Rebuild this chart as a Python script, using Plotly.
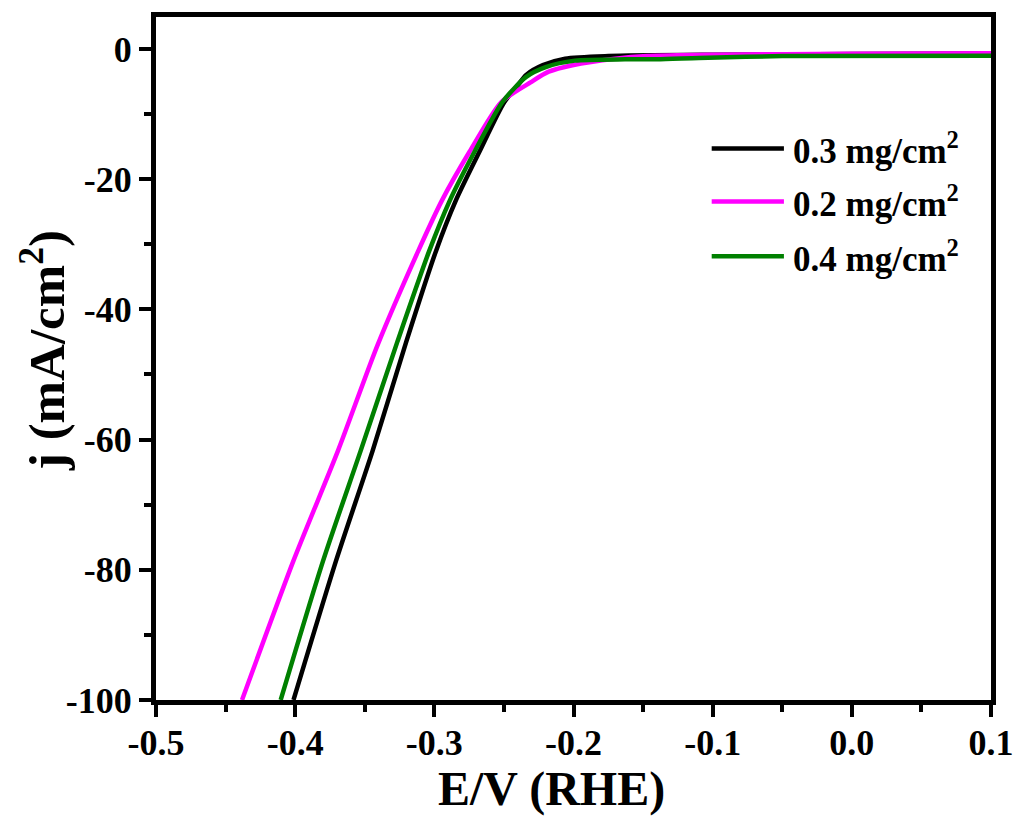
import plotly.graph_objects as go

# Polarization curves (HER), potential vs RHE and current density
E_03 = [-0.4012, -0.3706, -0.3443, -0.3202, -0.2989, -0.2846, -0.2676, -0.2498, -0.2400,
        -0.2340, -0.2220, -0.2060, -0.1750, -0.1000, 0.0000, 0.1000]
J_03 = [-100.0, -78.6, -61.7, -45.0, -31.1, -23.3, -15.8, -8.2, -5.6,
        -4.0, -2.5, -1.5, -1.1, -0.9, -0.8, -0.7]

E_02 = [-0.4382, -0.4012, -0.3692, -0.3408, -0.3117, -0.2946, -0.2747, -0.2520, -0.2306,
        -0.2178, -0.2008, -0.1700, -0.1470, -0.1000, 0.0000, 0.1000]
J_02 = [-100.0, -78.6, -61.7, -45.5, -31.1, -23.3, -15.8, -8.2, -5.1,
        -3.5, -2.5, -1.5, -1.1, -0.9, -0.75, -0.65]

E_04 = [-0.4104, -0.3799, -0.3529, -0.3266, -0.3038, -0.2889, -0.2711, -0.2512, -0.2340,
        -0.2200, -0.1990, -0.1630, -0.1400, -0.1100, -0.0500, 0.1000]
J_04 = [-100.0, -78.6, -61.7, -45.0, -31.1, -23.3, -15.8, -8.2, -4.3,
        -2.8, -1.8, -1.6, -1.6, -1.4, -1.1, -1.05]

series_names = ["0.3 mg/cm<sup>2</sup>", "0.2 mg/cm<sup>2</sup>", "0.4 mg/cm<sup>2</sup>"]
series_colors = ["#000000", "#FF00FF", "#008000"]
series_x = [E_03, E_02, E_04]
series_y = [J_03, J_02, J_04]

x_ticks = [-0.5, -0.4, -0.3, -0.2, -0.1, 0.0, 0.1]
x_labels = ["-0.5", "-0.4", "-0.3", "-0.2", "-0.1", "0.0", "0.1"]
y_ticks = [0, -20, -40, -60, -80, -100]
y_labels = ["0", "-20", "-40", "-60", "-80", "-100"]

FONT = "Liberation Serif, Times New Roman, serif"

fig = go.Figure()
for name, color, xs, ys in zip(series_names, series_colors, series_x, series_y):
    fig.add_trace(go.Scatter(x=xs, y=ys, mode="lines", name=name,
                             line=dict(color=color, width=4.5, shape="spline", smoothing=0.7),
                             showlegend=False))

# Legend drawn as line samples plus labels
leg_y = [0.8073, 0.7299, 0.6496]
for name, color, yy in zip(series_names, series_colors, leg_y):
    fig.add_shape(type="line", xref="paper", yref="paper", x0=0.6655, x1=0.752, y0=yy, y1=yy,
                  line=dict(color=color, width=4.5))
    fig.add_annotation(xref="paper", yref="paper", x=0.7604, y=yy, xanchor="left", yanchor="middle",
                       text="<b>" + name + "</b>", showarrow=False,
                       font=dict(family=FONT, size=35, color="black"))

# Axis titles
fig.add_annotation(xref="paper", yref="paper", x=(555 - 156) / 843, y=(700 - 789) / 685,
                   xanchor="center", yanchor="middle", showarrow=False,
                   text="<b>E/V (RHE)</b>", font=dict(family=FONT, size=48, color="black"))
fig.add_annotation(xref="paper", yref="paper", x=(42 - 156) / 843, y=(700 - 350) / 685,
                   xanchor="center", yanchor="middle", showarrow=False, textangle=-90,
                   text="<b>j (mA/cm<sup>2</sup>)</b>", font=dict(family=FONT, size=51, color="black"))

axis_common = dict(showline=True, linecolor="black", linewidth=5, mirror=True,
                   ticks="outside", ticklen=12, tickwidth=4, tickcolor="black",
                   showgrid=False, zeroline=False,
                   tickfont=dict(family=FONT, size=36, color="black", weight="bold"))

fig.update_xaxes(range=[-0.5, 0.1], tickvals=x_ticks, ticktext=x_labels, ticklabelstandoff=-5,
                 minor=dict(ticks="outside", ticklen=7, tickwidth=4, tickcolor="black", dtick=0.05,
                            tick0=-0.5),
                 **axis_common)
fig.update_yaxes(range=[-100, 4.9], tickvals=y_ticks, ticktext=y_labels,
                 minor=dict(ticks="outside", ticklen=7, tickwidth=4, tickcolor="black", dtick=10,
                            tick0=0),
                 **axis_common)

fig.update_layout(width=1026, height=821, plot_bgcolor="white", paper_bgcolor="white",
                  margin=dict(l=156, r=27, t=15, b=121),
                  font=dict(family=FONT, color="black"))

fig.write_html("out.html")
